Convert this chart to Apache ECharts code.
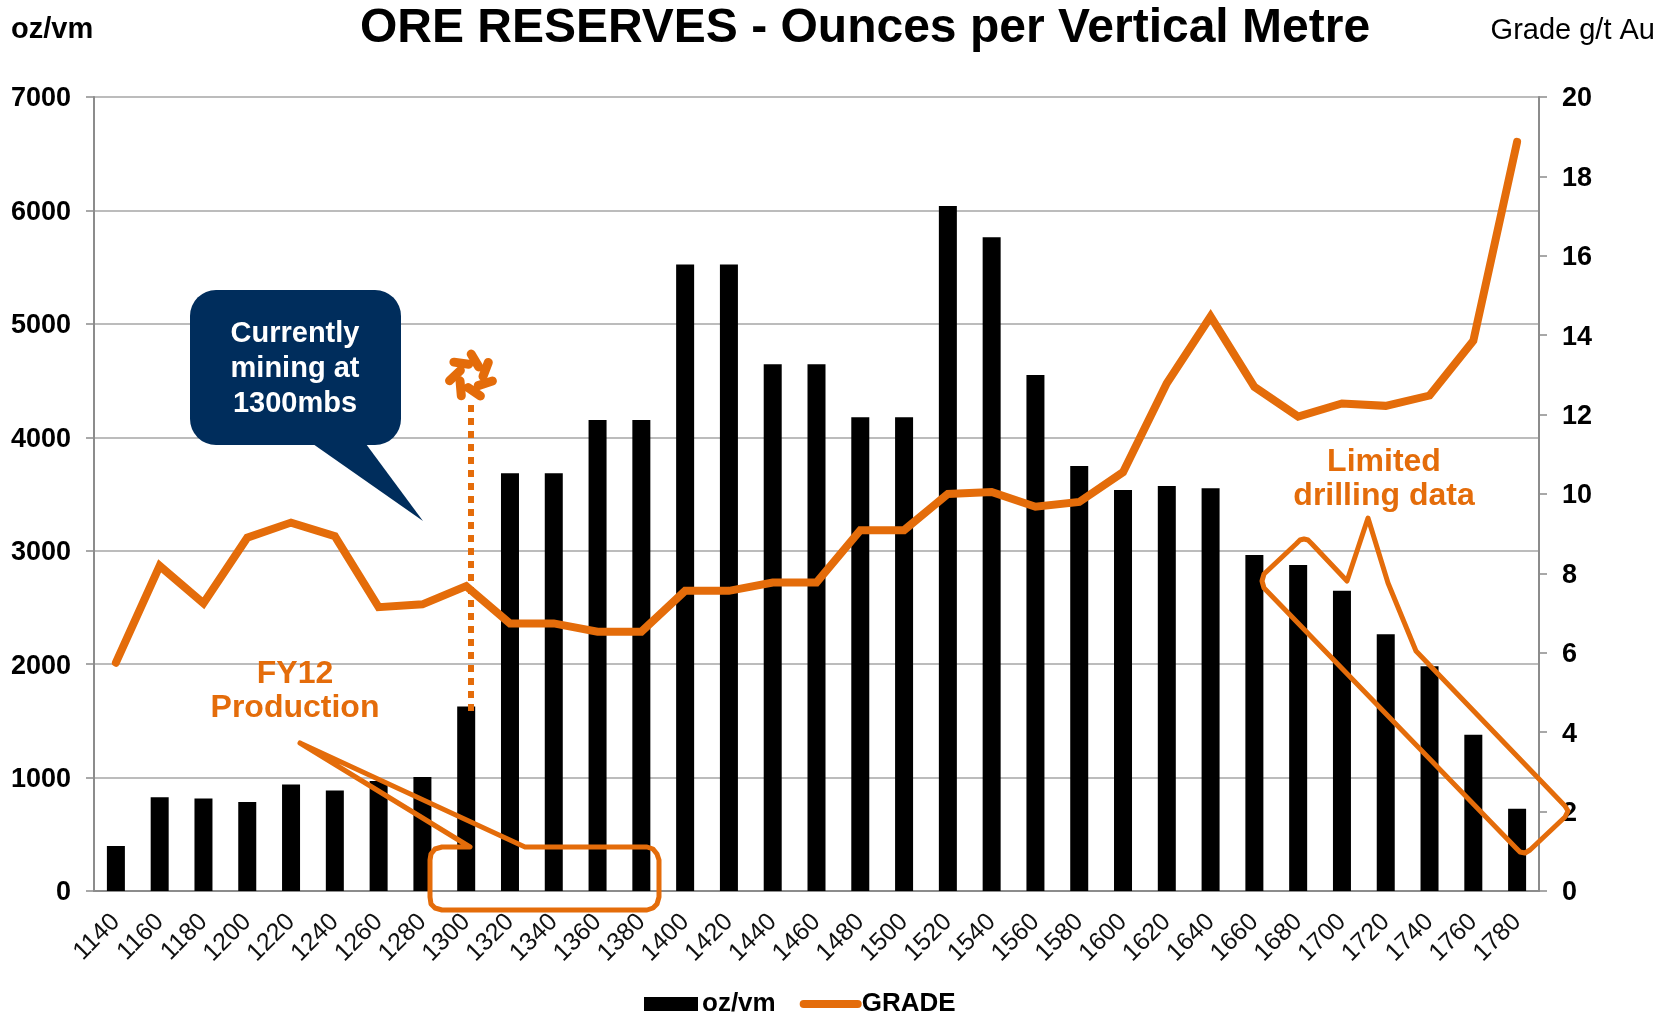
<!DOCTYPE html>
<html>
<head>
<meta charset="utf-8">
<style>
  html, body { margin: 0; padding: 0; background: #fff; }
  #chart { width: 1676px; height: 1012px; }
</style>
<script src="https://cdn.jsdelivr.net/npm/echarts@6/dist/echarts.min.js"></script>
</head>
<body>
<div id="chart"></div>
<script>
const depths = ['1140','1160','1180','1200','1220','1240','1260','1280','1300','1320','1340',
  '1360','1380','1400','1420','1440','1460','1480','1500','1520','1540','1560','1580','1600',
  '1620','1640','1660','1680','1700','1720','1740','1760','1780'];
const ozPerVm = [397,826,815,785,938,885,970,1006,1626,3683,3683,4153,4153,5523,5523,4644,4644,
  4177,4177,6040,5764,4550,3746,3536,3571,3550,2963,2875,2646,2263,1981,1378,726];
const grade = [5.75,8.19,7.25,8.9,9.28,8.94,7.15,7.22,7.68,6.74,6.74,6.53,6.53,7.56,7.56,7.77,7.77,
  9.09,9.09,10.0,10.05,9.68,9.8,10.55,12.79,14.47,12.7,11.95,12.28,12.22,12.48,13.86,18.87];

const ORANGE = '#e46c0a';
const FONT = '"Liberation Sans", Arial, sans-serif';

const chart = echarts.init(document.getElementById('chart'));

function label(x, y, text, size, color, weight, align) {
  return {
    type: 'text', x, y, z: 20,
    style: { text, fill: color, font: `${weight} ${size}px ${FONT}`, textAlign: align, textVerticalAlign: 'middle' }
  };
}

function outline(points) {
  return {
    type: 'polyline', z: 18,
    shape: { points },
    style: { stroke: ORANGE, lineWidth: 5, fill: null, lineJoin: 'round', lineCap: 'round' }
  };
}

// pinwheel logo above the dotted marker
function star(cx, cy) {
  const arms = [];
  for (let i = 0; i < 7; i++) {
    const a = (-141 + i * 360 / 7) * Math.PI / 180;
    const b = a + 40 * Math.PI / 180;
    arms.push({
      type: 'polyline', z: 20,
      shape: { points: [
        [cx + 22 * Math.cos(a), cy + 22 * Math.sin(a)],
        [cx + 12 * Math.cos(b), cy + 12 * Math.sin(b)]
      ] },
      style: { stroke: ORANGE, lineWidth: 9, fill: null, lineCap: 'round' }
    });
  }
  return arms;
}

const tickLabel = { fontSize: 27, fontWeight: 'bold', color: '#000', padding: [4, 0, 0, 0] };

chart.setOption({
  animation: false,
  textStyle: { fontFamily: FONT },
  grid: { left: 94, right: 137, top: 97, height: 794 },
  legend: {
    left: 639, top: 986, itemWidth: 54, itemHeight: 14, itemGap: 24,
    textStyle: { fontSize: 26, fontWeight: 'bold', color: '#000', padding: [0, 0, 0, -1] },
    data: [
      { name: 'oz/vm', icon: 'rect' },
      { name: 'GRADE', itemStyle: { opacity: 0 }, lineStyle: { width: 8, cap: 'round', color: ORANGE } }
    ]
  },
  xAxis: {
    type: 'category',
    data: depths,
    axisLine: { lineStyle: { color: '#8c8c8c', width: 2 } },
    axisTick: { alignWithLabel: false, interval: 0, length: 8, lineStyle: { color: '#8c8c8c', width: 1.5 } },
    axisLabel: { interval: 0, rotate: 45, fontSize: 25, color: '#111', margin: 27 }
  },
  yAxis: [
    {
      type: 'value', min: 0, max: 7000, interval: 1000, position: 'left',
      axisLine: { show: true, lineStyle: { color: '#8c8c8c', width: 2 } },
      axisTick: { show: true, length: 8, lineStyle: { color: '#8c8c8c', width: 1.5 } },
      axisLabel: { margin: 23, formatter: v => `{t|${v}}`, rich: { t: tickLabel } },
      splitLine: { lineStyle: { color: '#a6a6a6', width: 1.5 } }
    },
    {
      type: 'value', min: 0, max: 20, interval: 2, position: 'right',
      axisLine: { show: true, lineStyle: { color: '#8c8c8c', width: 2 } },
      axisTick: { show: true, length: 8, lineStyle: { color: '#8c8c8c', width: 1.5 } },
      axisLabel: { margin: 23, formatter: v => `{t|${v}}`, rich: { t: tickLabel } },
      splitLine: { show: false }
    }
  ],
  series: [
    {
      name: 'oz/vm', type: 'bar', data: ozPerVm, barWidth: 18,
      itemStyle: { color: '#000' }
    },
    {
      name: 'GRADE', type: 'line', yAxisIndex: 1, data: grade, showSymbol: false, symbol: 'none',
      itemStyle: { color: ORANGE },
      lineStyle: { color: ORANGE, width: 8, cap: 'round', join: 'miter' }
    }
  ],
  graphic: [
    label(865, 29, 'ORE RESERVES - Ounces per Vertical Metre', 48, '#000', 'bold', 'center'),
    label(11, 30, 'oz/vm', 29, '#000', 'bold', 'left'),
    label(1655, 31, 'Grade g/t Au', 29, '#000', 'normal', 'right'),

    // speech bubble
    {
      type: 'polygon', z: 19,
      shape: { points: [[313, 444], [366, 444], [423, 521]] },
      style: { fill: '#002d5c' }
    },
    {
      type: 'rect', z: 19,
      shape: { x: 190, y: 290, width: 211, height: 155, r: 26 },
      style: { fill: '#002d5c' }
    },
    label(295, 334, 'Currently', 29, '#fff', 'bold', 'center'),
    label(295, 369, 'mining at', 29, '#fff', 'bold', 'center'),
    label(295, 404, '1300mbs', 29, '#fff', 'bold', 'center'),

    // 1300 marker
    {
      type: 'line', z: 18,
      shape: { x1: 471, y1: 405, x2: 471, y2: 711 },
      style: { stroke: ORANGE, lineWidth: 6, lineDash: [7, 6] }
    },
    ...star(471, 376),

    // FY12 callout
    label(295, 674, 'FY12', 32, ORANGE, 'bold', 'center'),
    label(295, 708, 'Production', 32, ORANGE, 'bold', 'center'),
    outline([[300, 743], [470, 847], [442, 847], [435, 849], [431, 854], [430, 860], [430, 897], [431, 904],
      [435, 908], [442, 910], [647, 910], [653, 908], [657, 904], [659, 897], [659, 860], [657, 854],
      [653, 849], [647, 847], [525, 847], [300, 743]]),

    // limited drilling callout
    label(1384, 462, 'Limited', 32, ORANGE, 'bold', 'center'),
    label(1384, 496, 'drilling data', 32, ORANGE, 'bold', 'center'),
    outline([[1264, 574], [1296, 544], [1300, 540], [1304, 539], [1308, 540], [1312, 544], [1347, 581],
      [1368, 518], [1388, 583], [1416, 651], [1565, 806], [1568, 811], [1565, 817], [1530, 850], [1525, 853],
      [1520, 852], [1516, 848], [1264, 588], [1262, 581], [1264, 574]])
  ]
});
</script>
</body>
</html>
